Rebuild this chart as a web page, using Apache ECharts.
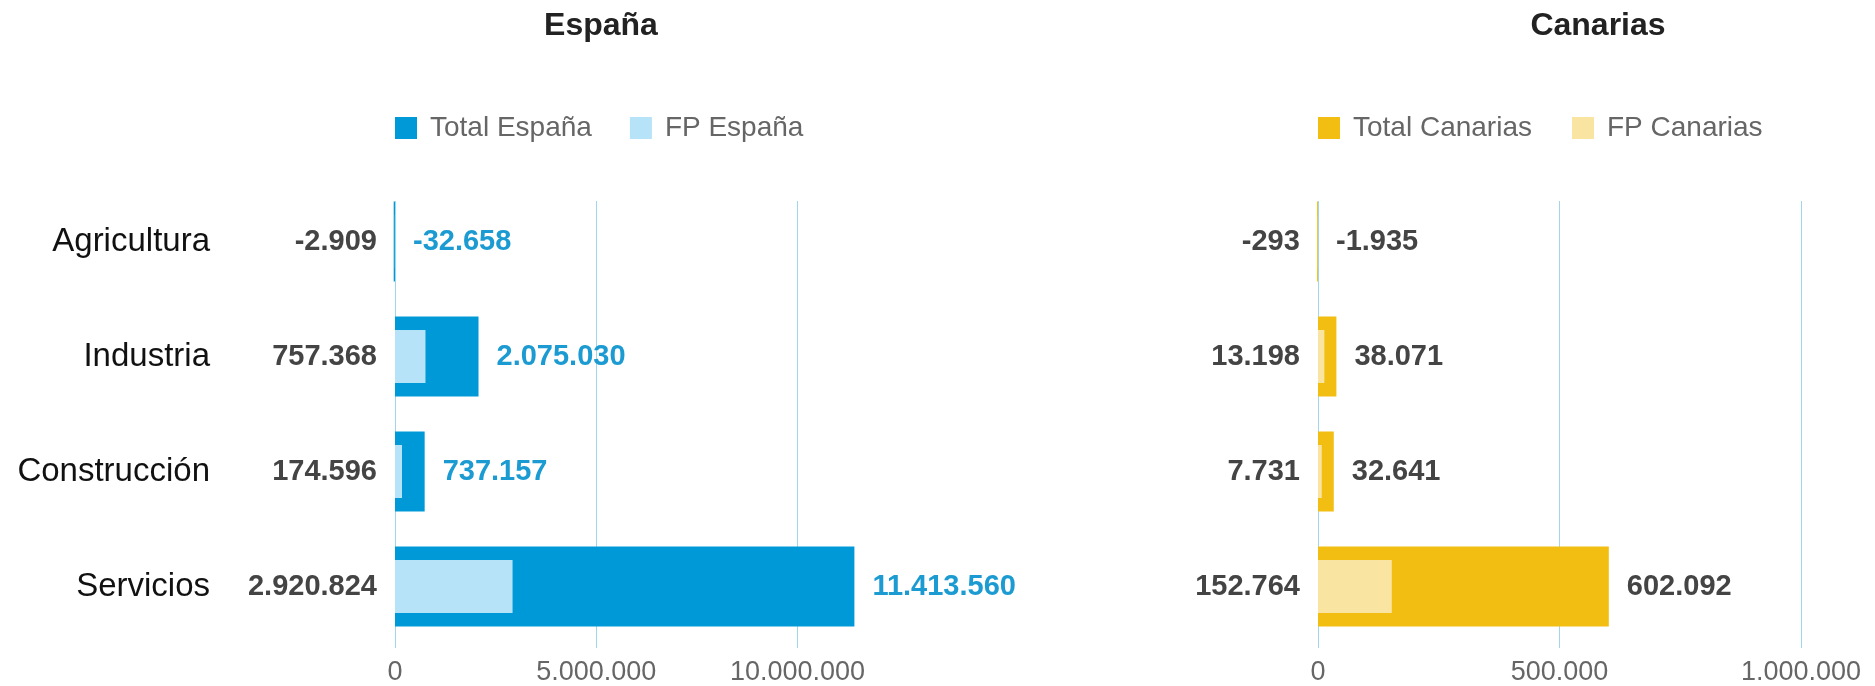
<!DOCTYPE html>
<html>
<head>
<meta charset="utf-8">
<script src="https://cdn.jsdelivr.net/npm/echarts@6/dist/echarts.min.js"></script>
<style>
  html, body { margin: 0; padding: 0; background: #fff; }
  #main { width: 1875px; height: 686px; }
</style>
</head>
<body>
<div id="main"></div>
<script>
var categories = ['Agricultura', 'Industria', 'Construcción', 'Servicios'];
var totalEspana = [-32658, 2075030, 737157, 11413560];
var fpEspana = [-2909, 757368, 174596, 2920824];
var totalCanarias = [-1935, 38071, 32641, 602092];
var fpCanarias = [-293, 13198, 7731, 152764];

var FONT = 'Liberation Sans, Arial, sans-serif';

function fmt(v) {
  var s = String(Math.abs(v)).replace(/\B(?=(\d{3})+(?!\d))/g, '.');
  return (v < 0 ? '-' : '') + s;
}

function valueLabel(pos, color) {
  return {
    show: true,
    position: pos,
    distance: 18,
    color: color,
    fontSize: 29,
    fontWeight: 'bold',
    fontFamily: FONT,
    formatter: function (p) { return fmt(p.value); }
  };
}

var chartDom = document.getElementById('main');
var myChart = echarts.init(chartDom);
var option;

// axis that only draws the vertical lines and tick labels
var lineAxis = function (grid, max, interval, showMax) {
  return {
    type: 'value',
    gridIndex: grid,
    min: 0,
    max: max,
    interval: interval,
    axisLine: { show: false },
    axisTick: { show: false },
    axisLabel: {
      showMaxLabel: showMax,
      margin: 11,
      fontSize: 27,
      color: '#666',
      fontFamily: FONT,
      formatter: fmt
    },
    splitLine: {
      show: true,
      showMinLine: true,
      showMaxLine: showMax,
      lineStyle: { color: '#9fd6e8', width: 1 }
    }
  };
};

var hiddenCat = function (grid) {
  return { type: 'category', gridIndex: grid, inverse: true, data: categories, show: false };
};

var legendText = { fontSize: 28, color: '#666', fontFamily: FONT, padding: [0, 0, 0, 8] };

option = {
  animation: false,
  title: [
    {
      text: 'España',
      left: 601,
      top: 10,
      padding: 0,
      textAlign: 'center',
      textStyle: { fontSize: 32, fontWeight: 'bold', color: '#222', fontFamily: FONT }
    },
    {
      text: 'Canarias',
      left: 1598,
      top: 10,
      padding: 0,
      textAlign: 'center',
      textStyle: { fontSize: 32, fontWeight: 'bold', color: '#222', fontFamily: FONT }
    }
  ],
  legend: [
    {
      data: ['Total España', 'FP España'],
      left: 395,
      top: 114,
      padding: 0,
      icon: 'rect',
      itemWidth: 22,
      itemHeight: 22,
      itemGap: 38,
      textStyle: legendText
    },
    {
      data: ['Total Canarias', 'FP Canarias'],
      left: 1318,
      top: 114,
      padding: 0,
      icon: 'rect',
      itemWidth: 22,
      itemHeight: 22,
      itemGap: 40,
      textStyle: legendText
    }
  ],
  grid: [
    { left: 395, right: 997, top: 184, bottom: 42 },
    { left: 395, right: 997, top: 201, bottom: 38 },
    { left: 1318, right: 74, top: 184, bottom: 42 },
    { left: 1318, right: 74, top: 201, bottom: 38 }
  ],
  xAxis: [
    { type: 'value', gridIndex: 0, min: 0, max: 12000000, show: false },
    lineAxis(1, 12000000, 5000000, false),
    { type: 'value', gridIndex: 2, min: 0, max: 1000000, show: false },
    lineAxis(3, 1000000, 500000, true)
  ],
  yAxis: [
    {
      type: 'category',
      gridIndex: 0,
      inverse: true,
      data: categories,
      axisLine: { show: false },
      axisTick: { show: false },
      axisLabel: { margin: 185, fontSize: 33, color: '#111', fontFamily: FONT }
    },
    hiddenCat(0),
    { type: 'value', gridIndex: 1, show: false },
    hiddenCat(2),
    hiddenCat(2),
    { type: 'value', gridIndex: 3, show: false }
  ],
  series: [
    {
      name: 'Total España',
      type: 'bar',
      xAxisIndex: 0,
      yAxisIndex: 0,
      barWidth: 80,
      clip: false,
      itemStyle: { color: '#0099d8' },
      label: valueLabel('right', '#1b9bd1'),
      data: totalEspana
    },
    {
      name: 'FP España',
      type: 'bar',
      xAxisIndex: 0,
      yAxisIndex: 1,
      barWidth: 53,
      clip: false,
      itemStyle: { color: '#b6e3f8' },
      label: valueLabel('left', '#444'),
      data: fpEspana
    },
    {
      name: 'Total Canarias',
      type: 'bar',
      xAxisIndex: 2,
      yAxisIndex: 3,
      barWidth: 80,
      clip: false,
      itemStyle: { color: '#f2be12' },
      label: valueLabel('right', '#444'),
      data: totalCanarias
    },
    {
      name: 'FP Canarias',
      type: 'bar',
      xAxisIndex: 2,
      yAxisIndex: 4,
      barWidth: 53,
      clip: false,
      itemStyle: { color: '#f9e4a2' },
      label: valueLabel('left', '#444'),
      data: fpCanarias
    }
  ]
};

option && myChart.setOption(option);
</script>
</body>
</html>
